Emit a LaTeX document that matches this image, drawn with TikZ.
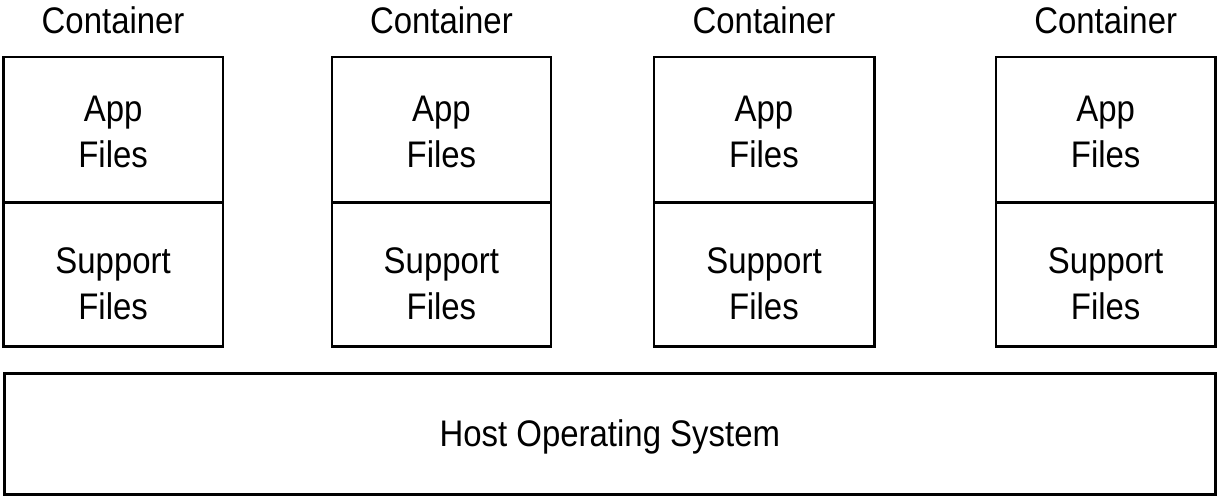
\documentclass[tikz,border=0pt]{standalone}
\usepackage{fontspec}
\setmainfont{Liberation Sans}[FakeStretch=0.89]
\begin{document}
\begin{tikzpicture}[x=1pt,y=-1pt,
  part/.style={draw=black, line width=2.6pt, inner sep=0pt, outer sep=0pt},
  txt/.style={inner sep=0pt, align=center, anchor=base, font=\fontsize{37}{46}\selectfont, text=black}]
\useasboundingbox (0,0) rectangle (1217,497);
\foreach \i/\cx/\w in {1/113.1/219.8, 2/441.4/218.8, 3/764/220.4, 4/1105.65/219.7}{
  \node[part, minimum width=\w pt, minimum height=145.3pt] (app\i) at (\cx,129.65) {};
  \node[part, minimum width=\w pt, minimum height=144.4pt] (sup\i) at (\cx,274.5) {};
  \node[txt] (lab\i) at (\cx,33.3) {Container};
  \node[txt] (appt\i) at (\cx,167.7) {App\\Files};
  \node[txt] (supt\i) at (\cx,319) {Support\\Files};
}
\node[part, minimum width=1211.3pt, minimum height=121.4pt] (host) at (609.85,434) {};
\node[txt] (hostt) at (609.85,446.7) {Host Operating System};
\end{tikzpicture}
\end{document}
